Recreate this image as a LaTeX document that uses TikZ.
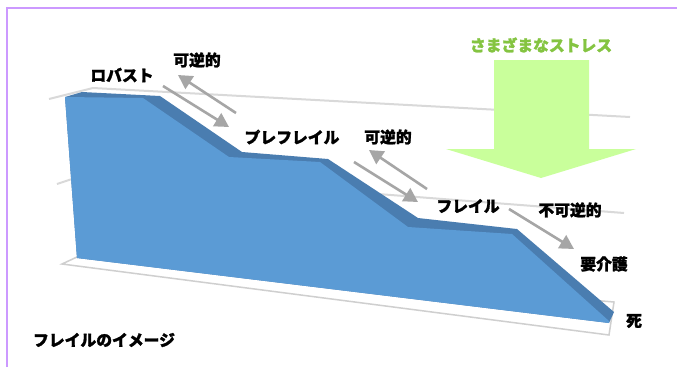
\documentclass[tikz,border=0pt]{standalone}
\usepackage{fontspec}
\newfontfamily\jpfont{Noto Sans CJK JP}[BoldFeatures={FakeBold=1.5}]
\usetikzlibrary{arrows.meta}
\definecolor{frameC}{HTML}{CC99FF}
\definecolor{gridC}{HTML}{D9D9D9}
\definecolor{floorC}{HTML}{CFCFCF}
\definecolor{blueF}{HTML}{5B9BD5}
\definecolor{blueD}{HTML}{4A7DB0}
\definecolor{arrC}{HTML}{A6A6A6}
\definecolor{stressC}{HTML}{C9FF9B}
\definecolor{stressT}{HTML}{84C441}
\tikzset{
  lbl/.style={font=\jpfont\bfseries\fontsize{15.8}{16}\selectfont, inner sep=0pt, text=black},
  grid line/.style={draw=gridC, line width=2pt},
  flow/.style={draw=arrC, line width=2.6pt, -{Triangle[length=14pt,width=15pt]}},
}
\begin{document}
\begin{tikzpicture}[x=1pt,y=-1pt]
\useasboundingbox (0,0) rectangle (677,367);
\fill[white] (0,0) rectangle (677,367);
% frame
\draw[frameC, line width=1.5pt] (7,367) -- (7,8) -- (677,8);
% grid lines
\draw[grid line] (49,99) -- (93,88) -- (630,117);
\draw[grid line] (57,184) -- (93,172) -- (624,213);
% floor slab
\draw[floorC, line width=1.5pt, fill=white] (62,264) -- (77,257) -- (614,302) -- (609,335) -- cycle;
% back (dark) ridge
\fill[blueD] (65,97) -- (82,92) -- (160,96) -- (242,152) -- (328,159) -- (418,218) -- (517,229) -- (614,312) -- (609,323) -- (77,258) -- cycle;
% front face
\fill[blueF] (65,97) -- (143,98) -- (229,157) -- (320,162) -- (408,227) -- (512,234) -- (609,321) -- (609,323) -- (77,258) -- cycle;
% stress arrow
\fill[stressC] (494,60) -- (589,60) -- (589,149) -- (636,149) -- (541,178) -- (446,149) -- (494,149) -- cycle;
\node[lbl, text=stressT] (stress) at (541,45) {さまざまなストレス};
% labels
\node[lbl] (robust) at (122,75) {ロバスト};
\node[lbl] (rev1) at (197,60) {可逆的};
\node[lbl] (prefrail) at (292,137) {プレフレイル};
\node[lbl] (rev2) at (388,137) {可逆的};
\node[lbl] (frail) at (468,206) {フレイル};
\node[lbl] (irrev) at (570,210) {不可逆的};
\node[lbl] (care) at (604,264) {要介護};
\node[lbl] (death) at (634,321) {死};
\node[lbl] (title) at (104,340) {フレイルのイメージ};
% arrow endpoints
\coordinate (a1s) at (163,86);  \coordinate (a1e) at (229,127);
\coordinate (a2s) at (236,113); \coordinate (a2e) at (178,75);
\coordinate (a3s) at (354,162); \coordinate (a3e) at (418,202);
\coordinate (a4s) at (427,189); \coordinate (a4e) at (369,150);
\coordinate (a5s) at (509,209); \coordinate (a5e) at (574,249);
\draw[flow] (a1s) -- (a1e);
\draw[flow] (a2s) -- (a2e);
\draw[flow] (a3s) -- (a3e);
\draw[flow] (a4s) -- (a4e);
\draw[flow] (a5s) -- (a5e);
\end{tikzpicture}
\end{document}
